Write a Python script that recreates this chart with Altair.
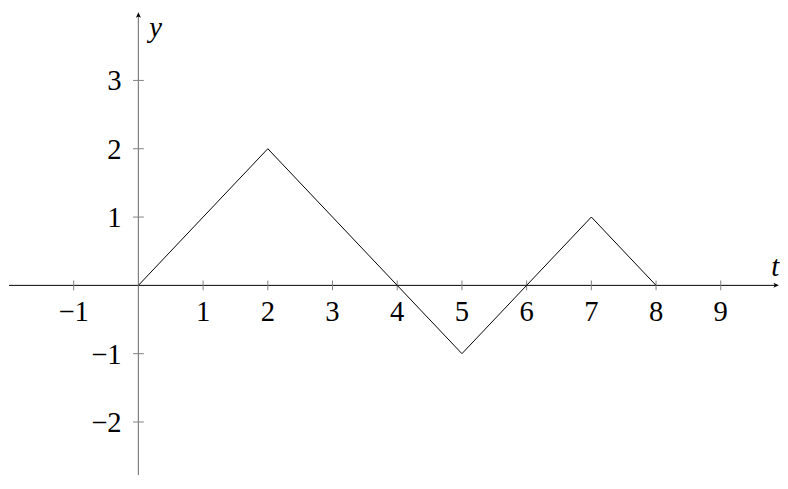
import altair as alt
import pandas as pd

# ---- data ----
t_vals = [0, 2, 4, 5, 6, 7, 8]
y_vals = [0, 2, 0, -1, 0, 1, 0]

x_ticks = [-1, 1, 2, 3, 4, 5, 6, 7, 8, 9]
x_tick_labels = ["−1", "1", "2", "3", "4", "5", "6", "7", "8", "9"]
y_ticks = [-2, -1, 1, 2, 3]
y_tick_labels = ["−2", "−1", "1", "2", "3"]

x_title = "t"
y_title = "y"

x_domain = [-2.0, 9.87]
y_domain = [-2.776, 4.016]

FONT = "Liberation Serif"
FS = 29

xs = alt.Scale(domain=x_domain, nice=False, zero=False)
ys = alt.Scale(domain=y_domain, nice=False, zero=False)


def X(field="t"):
    return alt.X(f"{field}:Q", scale=xs, axis=None)


def Y(field="y"):
    return alt.Y(f"{field}:Q", scale=ys, axis=None)


line_df = pd.DataFrame({"t": t_vals, "y": y_vals})
xt_df = pd.DataFrame({"t": x_ticks, "y": [0] * len(x_ticks), "label": x_tick_labels})
yt_df = pd.DataFrame({"t": [0] * len(y_ticks), "y": y_ticks, "label": y_tick_labels})
xaxis_df = pd.DataFrame({"t": [x_domain[0]], "t2": [x_domain[1]], "y": [0]})
yaxis_df = pd.DataFrame({"t": [0], "y": [y_domain[0]], "y2": [3.95]})
yarrow_df = pd.DataFrame({"t": [0], "y": [3.951]})
xarrow_df = pd.DataFrame({"t": [9.85], "y": [0]})
ytitle_df = pd.DataFrame({"t": [0], "y": [3.64], "label": [y_title]})
xtitle_df = pd.DataFrame({"t": [9.84], "y": [0.143], "label": [x_title]})

x_axis = alt.Chart(xaxis_df).mark_rule(color="black", strokeWidth=1).encode(
    x=X("t"), x2="t2:Q", y=Y("y")
)
y_axis = alt.Chart(yaxis_df).mark_rule(color="#808080", strokeWidth=1.2).encode(
    x=X("t"), y=Y("y"), y2="y2:Q"
)
y_arrow = alt.Chart(yarrow_df).mark_point(
    shape="M0,-1 L0.8,0.75 L0,0.3 L-0.8,0.75 Z", filled=True, color="black",
    size=40, opacity=1
).encode(x=X("t"), y=Y("y"))
x_arrow = alt.Chart(xarrow_df).mark_point(
    shape="M1,0 L-0.75,0.8 L-0.3,0 L-0.75,-0.8 Z", filled=True, color="black",
    size=40, opacity=1
).encode(x=X("t"), y=Y("y"))

x_tick_marks = alt.Chart(xt_df).mark_tick(
    orient="vertical", color="#808080", thickness=1, size=10, opacity=1
).encode(x=X("t"), y=Y("y"))
y_tick_marks = alt.Chart(yt_df).mark_tick(
    orient="horizontal", color="#808080", thickness=1, size=11, opacity=1
).encode(x=X("t"), y=Y("y"))

x_labels = alt.Chart(xt_df).mark_text(
    font=FONT, fontSize=FS, color="black", align="center", baseline="alphabetic", dy=36
).encode(x=X("t"), y=Y("y"), text="label:N")
y_labels = alt.Chart(yt_df).mark_text(
    font=FONT, fontSize=FS, color="black", align="right", baseline="alphabetic",
    dx=-17, dy=10
).encode(x=X("t"), y=Y("y"), text="label:N")

line = alt.Chart(line_df).mark_line(color="black", strokeWidth=1).encode(
    x=X("t"), y=Y("y")
)

y_t = alt.Chart(ytitle_df).mark_text(
    font=FONT, fontSize=FS, fontStyle="italic", color="black", align="left",
    baseline="alphabetic", dx=11
).encode(x=X("t"), y=Y("y"), text="label:N")
x_t = alt.Chart(xtitle_df).mark_text(
    font=FONT, fontSize=FS, fontStyle="italic", color="black", align="center",
    baseline="alphabetic"
).encode(x=X("t"), y=Y("y"), text="label:N")

chart = alt.layer(
    x_axis, y_axis, x_tick_marks, y_tick_marks, line, y_arrow, x_arrow,
    x_labels, y_labels, y_t, x_t
).properties(width=778, height=470, padding=0, background="white").configure_view(
    stroke=None
)

chart.save("out.html", embed_options={"renderer": "svg", "actions": False})
